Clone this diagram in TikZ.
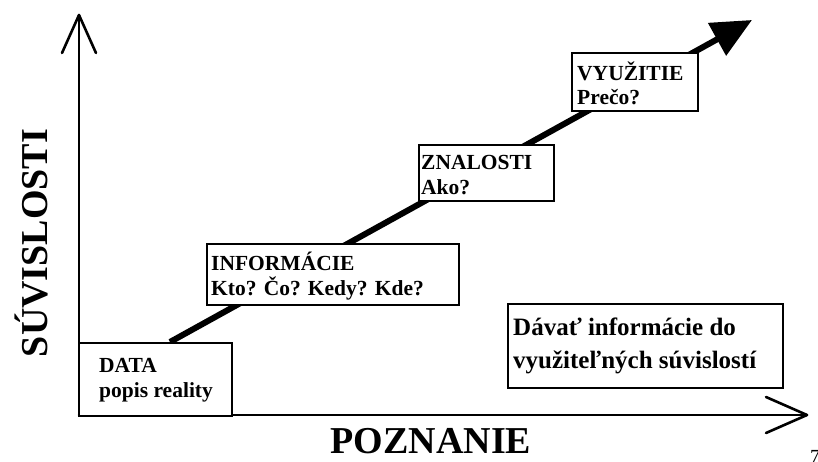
\documentclass[tikz,border=0pt]{standalone}
\usepackage{fontspec}
\setmainfont{Liberation Serif}
\usetikzlibrary{arrows.meta}
\tikzset{
  axisline/.style={line width=2.6pt, line cap=round},
  stepbox/.style={draw, line width=1.8pt, fill=white, inner sep=0pt, anchor=north west},
  boxtext/.style={anchor=west, align=left, inner sep=0pt, font=\bfseries\fontsize{21.5}{24.5}\selectfont},
  bigtitle/.style={font=\bfseries\fontsize{38}{40}\selectfont, inner sep=0pt, anchor=base, text depth=0pt},
}
\begin{document}
\begin{tikzpicture}[x=1pt,y=-1pt]
\useasboundingbox[fill=white] (0,0) rectangle (818,462);
% axes
\coordinate (o) at (79,415);
\coordinate (ytip) at (79,15);
\coordinate (xtip) at (807,415);
\draw[axisline] (o) -- (ytip);
\draw[axisline] (ytip) -- ++(-17,38);
\draw[axisline] (ytip) -- ++(17,38);
\draw[axisline] (o) -- (xtip);
\draw[axisline] (xtip) -- ++(-41,-18);
\draw[axisline] (xtip) -- ++(-41,18);
% main arrow
\coordinate (as) at (170,342);
\coordinate (at) at (752,20);
\draw[line width=6pt, -{Triangle[length=40pt,width=36pt]}] (as) -- (at);
% boxes
\node[stepbox, minimum width=153pt, minimum height=73pt] (data) at (78,342) {};
\node[boxtext] (datat) at ([xshift=21pt,yshift=-1pt]data.west) {DATA\\popis reality};
\node[stepbox, minimum width=252pt, minimum height=61pt] (info) at (206,243) {};
\node[boxtext] (infot) at ([xshift=5pt,yshift=-1.5pt]info.west) {INFORMÁCIE\\Kto? Čo? Kedy? Kde?};
\node[stepbox, minimum width=135pt, minimum height=56pt] (znal) at (418,144) {};
\node[boxtext] (znalt) at ([xshift=3pt,yshift=-2pt]znal.west) {ZNALOSTI\\Ako?};
\node[stepbox, minimum width=126pt, minimum height=58pt] (vyuz) at (571,52) {};
\node[boxtext] (vyuzt) at ([xshift=6pt,yshift=-1.5pt]vyuz.west) {VYUŽITIE\\Prečo?};
\node[stepbox, minimum width=275pt, minimum height=84pt] (note) at (507,303) {};
\node[boxtext, font=\bfseries\fontsize{25}{33}\selectfont] (notet) at ([xshift=6pt]note.west) {Dávať informácie do\\využiteľných súvislostí};
% axis titles
\node[bigtitle] (xlab) at (431,453) {POZNANIE};
\node[bigtitle, rotate=90] (ylab) at (47,243) {SÚVISLOSTI};
\node[anchor=north west, inner sep=0pt, font=\fontsize{20}{20}\selectfont] (pg) at (810,450) {7};
\end{tikzpicture}
\end{document}
